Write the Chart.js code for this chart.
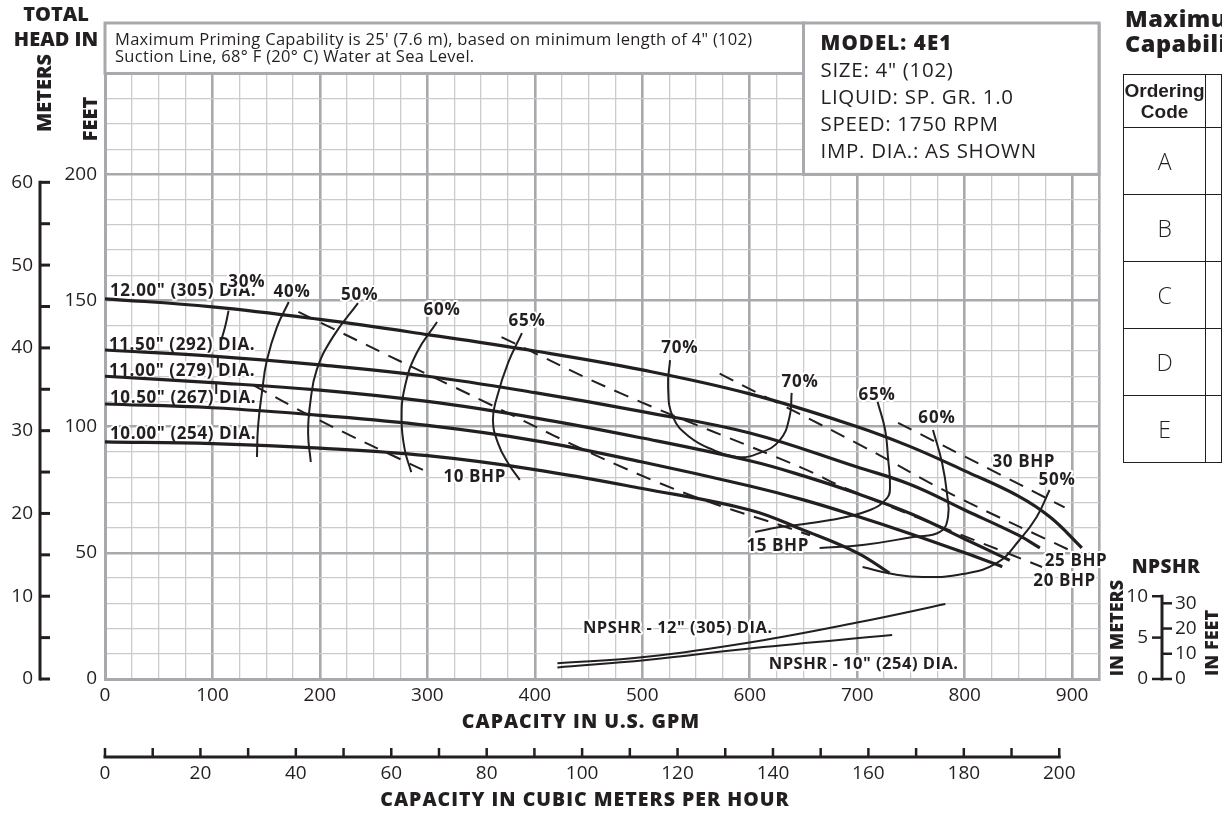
<!DOCTYPE html>
<html>
<head>
  <title>Model 4E1 Performance Curve</title>
  <script src="https://cdn.jsdelivr.net/npm/chart.js"></script>
  <style>
    body { margin: 0; width: 1222px; height: 813px; overflow: hidden; background: #fff; position: relative; color: #231f20; }
    #curve { position: absolute; left: 0; top: 0; }
    #sideTitle { position: absolute; left: 1125px; top: 6px; font: 800 23.5px/25px 'Open Sans', sans-serif; letter-spacing: 0.5px; white-space: nowrap; }
    #codes { position: absolute; left: 1123px; top: 74px; border-collapse: collapse; }
    #codes th, #codes td { border: 1.5px solid #231f20; padding: 0; text-align: center; }
    #codes th { height: 52px; width: 88px; font: bold 19px/21px 'Liberation Sans Narrow', 'Liberation Sans', sans-serif; }
    #codes td { height: 66px; font: 300 23px 'Open Sans', sans-serif; }
    #codes .wide { width: 120px; }
  </style>
</head>
<body>
  <canvas id="curve" width="1222" height="813"></canvas>
  <div id="sideTitle">Maximum Priming<br>Capability</div>
  <table id="codes">
    <tr><th>Ordering<br>Code</th><th class="wide"></th></tr>
    <tr><td>A</td><td></td></tr>
    <tr><td>B</td><td></td></tr>
    <tr><td>C</td><td></td></tr>
    <tr><td>D</td><td></td></tr>
    <tr><td>E</td><td></td></tr>
  </table>

  <script>
    const INK = '#231f20';
    const GRID_MAJOR = '#a7a9ac';
    const GRID_MINOR = '#cacbcd';

    // head (ft) against capacity (US GPM) for each impeller diameter
    const impellerNames = ['12.00" (305) DIA.', '11.50" (292) DIA.', '11.00" (279) DIA.', '10.50" (267) DIA.', '10.00" (254) DIA.'];
    const head1200 = [[0, 150.7], [100, 147.5], [200, 142.5], [300, 136.5], [400, 130], [500, 122.5], [600, 113], [700, 100], [750, 92], [800, 82.5], [850, 72.5], [880, 64], [909, 52]];
    const head1150 = [[0, 130.4], [100, 128], [200, 124.5], [300, 120], [400, 113.5], [500, 106], [600, 97.5], [700, 84], [750, 77], [800, 67], [850, 57], [870, 52]];
    const head1100 = [[0, 120], [100, 117.5], [200, 114.5], [300, 110], [400, 103.5], [500, 95.5], [600, 86.5], [650, 80.5], [700, 73.5], [750, 65.5], [800, 55.5], [842, 47]];
    const head1050 = [[0, 109], [100, 107.5], [200, 104.5], [300, 100.5], [400, 94.5], [500, 86], [600, 76.5], [650, 71], [700, 64.5], [750, 57.5], [800, 50], [835, 44.5]];
    const head1000 = [[0, 94], [100, 93.3], [200, 91.5], [300, 88.5], [400, 83], [500, 75.5], [600, 67], [650, 59], [700, 50], [730, 42]];

    // efficiency contours (null = break in the line)
    const effNames = ['30%', '40%', '50%', '60%', '65%', '70%', '70%', '65%', '60%', '50%'];
    const eff30 = [[115, 146], [112, 140], [108, 134], null, [105, 127.5], [105, 123.5], null, [103.5, 117.5], [103.5, 113]];
    const eff40 = [[171, 149.4], [160, 139.5], [150.7, 126.4], [146, 113.4], [142.4, 99.9], [141.4, 88]];
    const eff50 = [[235.4, 149], [212, 135.5], [197, 122.5], [191, 109.4], [189, 97.5], [191.5, 86]];
    const eff60 = [[309, 141.5], [290, 129.2], [279, 115.7], [276, 102.7], [279, 90.8], [285, 82]];
    const eff65 = [[388, 137.1], [375, 125.2], [364.8, 111.8], [361, 102.7], [365.7, 93.5], [375, 85.6], [386, 78.9]];
    const eff70 = [[525.8, 126.4], [524, 115.7], [528.6, 103.8], [544, 95.9], [566, 90.8], [588, 88], [609.5, 89.6], [628, 94.7], [637, 103.8], [639, 113.4]];
    const eff65b = [[719, 109.8], [726, 98.7], [728.6, 88], [730.5, 76.1], [727.7, 71.7], [712, 67], [675, 63], [628, 60.2], [605, 58.3]];
    const eff60b = [[770.5, 98.7], [779, 85.6], [783.5, 73.7], [784.5, 64.2], [777, 58.3], [752, 56.3], [705, 53.1], [665, 51.9]];
    const eff50b = [[879, 74.9], [867, 64.2], [851, 55.1], [830, 46], [798, 41.6], [761, 40.4], [733, 41.6], [705, 44.4]];

    // brake horsepower lines
    const bhpNames = ['10 BHP', '15 BHP', '20 BHP', '25 BHP', '30 BHP'];
    const bhp10 = [[138, 116.5], [193.5, 103.8], [302, 81.6]];
    const bhp15 = [[180, 145.5], [321, 116.5], [514, 78], [656, 57]];
    const bhp20 = [[369, 135.5], [479, 113.4], [649, 83.6], [693, 74.9], [872, 44.4]];
    const bhp25 = [[572, 121], [703, 92.7], [789, 73], [898, 51]];
    const bhp30 = [[738, 101.5], [824, 83], [893, 68]];

    // NPSH required (ft)
    const npshNames = ['NPSHR - 12" (305) DIA.', 'NPSHR - 10" (254) DIA.'];
    const npsh12 = [[421, 6.2], [504, 8.8], [604, 14.8], [703.5, 22.7], [782, 29.7]];
    const npsh10 = [[421, 4.6], [504, 7.5], [604, 12.3], [732.5, 17.4]];

    // axes
    const gpmMax = 925;
    const feetMax = 260;
    const gpmPerM3h = 4.44;
    const feetLabels = [0, 50, 100, 150, 200];
    const meterTicks = [0, 5, 10, 15, 20, 25, 30, 35, 40, 45, 50, 55, 60];
    const meterLabels = [0, 10, 20, 30, 40, 50, 60];
    const m3hTicks = [0, 10, 20, 30, 40, 50, 60, 70, 80, 90, 100, 110, 120, 130, 140, 150, 160, 170, 180, 190, 200];
    const m3hLabels = [0, 20, 40, 60, 80, 100, 120, 140, 160, 180, 200];
    const npshMeters = [0, 5, 10];
    const npshFeet = [0, 10, 20, 30];

    const noteLines = ['Maximum Priming Capability is 25\' (7.6 m), based on minimum length of 4" (102)', 'Suction Line, 68° F (20° C) Water at Sea Level.'];
    const modelLines = ['MODEL: 4E1', 'SIZE: 4" (102)', 'LIQUID: SP. GR. 1.0', 'SPEED: 1750 RPM', 'IMP. DIA.: AS SHOWN'];

    // where the curve captions sit, in GPM / ft
    const impellerLabelAt = [[4.7, 153.6], [3.7, 132.4], [3.7, 122.1], [4.7, 111.2], [4.7, 97.1]];
    const effLabelAt = [[132, 157.3], [174, 153.4], [237, 152.2], [313.6, 146.3], [392.7, 141.9], [535, 131.2], [646.8, 117.7], [718.4, 112.6], [774.2, 103.4], [886, 78.9]];
    const bhpLabelAt = [[344, 80], [626, 52.7], [893, 38.8], [903.6, 46.8], [855, 86]];
    const npshLabelAt = [[533, 20.2], [706, 5.9]];

    const pts = arr => arr.map((p, i) => p ? { x: p[0], y: p[1] } : { x: arr[i - 1][0], y: null });

    const datasets = [];
    [head1200, head1150, head1100, head1050, head1000].forEach(c =>
      datasets.push({ data: pts(c), borderWidth: 3.2 }));
    [eff30, eff40, eff50, eff60, eff65, eff70, eff65b, eff60b, eff50b].forEach(c =>
      datasets.push({ data: pts(c), borderWidth: 2, tension: 0.45 }));
    [bhp10, bhp15, bhp20, bhp25, bhp30].forEach(c =>
      datasets.push({ data: pts(c), borderWidth: 2, borderDash: [15, 10] }));
    [npsh12, npsh10].forEach(c =>
      datasets.push({ data: pts(c), borderWidth: 2 }));

    function write(ctx, s, x, y, font, align, halo, spacing) {
      ctx.font = font;
      ctx.letterSpacing = (spacing || 0) + 'px';
      ctx.textAlign = align || 'left';
      ctx.textBaseline = 'middle';
      if (halo) {
        ctx.lineWidth = 4;
        ctx.lineJoin = 'round';
        ctx.strokeStyle = '#fff';
        ctx.strokeText(s, x, y);
      }
      ctx.fillStyle = INK;
      ctx.fillText(s, x, y);
      ctx.letterSpacing = '0px';
    }

    function upright(ctx, s, x, y, font) {
      ctx.save();
      ctx.translate(x, y);
      ctx.rotate(-Math.PI / 2);
      write(ctx, s, 0, 0, font, 'center');
      ctx.restore();
    }

    function stroke(ctx, x1, y1, x2, y2, w) {
      ctx.lineWidth = w;
      ctx.strokeStyle = INK;
      ctx.beginPath();
      ctx.moveTo(x1, y1);
      ctx.lineTo(x2, y2);
      ctx.stroke();
    }

    const BOLD = '700 17px "Open Sans"';

    const decor = {
      id: 'decor',
      beforeDatasetsDraw(chart) {
        const { ctx } = chart;
        const { x, y } = chart.scales;
        ctx.save();
        // note box and model box over the top of the grid
        const boxes = [[0, feetMax, 650, 240], [650, feetMax, gpmMax, 200]];
        boxes.forEach(([g1, f1, g2, f2]) => {
          const l = x.getPixelForValue(g1), t = y.getPixelForValue(f1);
          const r = x.getPixelForValue(g2), b = y.getPixelForValue(f2);
          ctx.fillStyle = '#fff';
          ctx.fillRect(l, t, r - l, b - t);
          ctx.strokeStyle = GRID_MAJOR;
          ctx.lineWidth = 3;
          ctx.strokeRect(l, t, r - l, b - t);
        });
        const nl = x.getPixelForValue(0) + 10, nt = y.getPixelForValue(feetMax);
        noteLines.forEach((s, i) => write(ctx, s, nl, nt + 17 + i * 17, '16.5px "Open Sans"', 'left', false, 0.3));
        const ml = x.getPixelForValue(650) + 17;
        modelLines.forEach((s, i) =>
          write(ctx, s, ml, nt + 21 + i * 27, (i === 0 ? '800 ' : '400 ') + '20.5px "Open Sans"', 'left', false, i === 0 ? 1.1 : 0.7));

        impellerNames.forEach((s, i) => {
          const [g, f] = impellerLabelAt[i];
          write(ctx, s, x.getPixelForValue(g), y.getPixelForValue(f), BOLD, 'left', true, 0.6);
        });
        ctx.restore();
      },
      afterDatasetsDraw(chart) {
        const { ctx } = chart;
        const { x, y } = chart.scales;
        ctx.save();
        effNames.forEach((s, i) => {
          const [g, f] = effLabelAt[i];
          write(ctx, s, x.getPixelForValue(g), y.getPixelForValue(f), BOLD, 'center', true, 0.8);
        });
        bhpNames.forEach((s, i) => {
          const [g, f] = bhpLabelAt[i];
          write(ctx, s, x.getPixelForValue(g), y.getPixelForValue(f), BOLD, 'center', true, 0.6);
        });
        npshNames.forEach((s, i) => {
          const [g, f] = npshLabelAt[i];
          write(ctx, s, x.getPixelForValue(g), y.getPixelForValue(f), '700 16.5px "Open Sans"', 'center', true, 0.5);
        });
        ctx.restore();
      },
      afterDraw(chart) {
        const { ctx } = chart;
        const { y, xm, ym } = chart.scales;
        const NUM = '19px "Open Sans"';
        const TITLE = '800 20px "Open Sans"';
        ctx.save();

        // metres scale down the far left
        const mx = 40;
        stroke(ctx, mx, ym.getPixelForValue(0) + 1.5, mx, ym.getPixelForValue(60) - 1.5, 3);
        meterTicks.forEach(v => stroke(ctx, mx, ym.getPixelForValue(v), mx + 10, ym.getPixelForValue(v), 3));
        meterLabels.forEach(v => write(ctx, String(v), 33, ym.getPixelForValue(v), NUM, 'right'));

        write(ctx, 'TOTAL', 56, 15, TITLE, 'center');
        write(ctx, 'HEAD IN', 56, 40, TITLE, 'center');
        upright(ctx, 'METERS', 45, 93, TITLE);
        upright(ctx, 'FEET', 91, 119, TITLE);

        // cubic metres per hour scale under the GPM axis
        const ay = 757;
        stroke(ctx, xm.getPixelForValue(0) - 1.5, ay, xm.getPixelForValue(200) + 1.5, ay, 3);
        m3hTicks.forEach(v => stroke(ctx, xm.getPixelForValue(v), ay, xm.getPixelForValue(v), ay - 9, 2.5));
        m3hLabels.forEach(v => write(ctx, String(v), xm.getPixelForValue(v), ay + 17, NUM, 'center'));
        write(ctx, 'CAPACITY IN U.S. GPM', 581, 722, '800 19.5px "Open Sans"', 'center', false, 1);
        write(ctx, 'CAPACITY IN CUBIC METERS PER HOUR', 585, 800, '800 19.5px "Open Sans"', 'center', false, 1);

        // small NPSHR scale at the right
        const nx = 1162;
        stroke(ctx, nx, ym.getPixelForValue(0) + 1.5, nx, ym.getPixelForValue(10) - 1.5, 3);
        npshMeters.forEach(v => {
          stroke(ctx, nx - 10, ym.getPixelForValue(v), nx, ym.getPixelForValue(v), 2.5);
          write(ctx, String(v), nx - 14, ym.getPixelForValue(v), NUM, 'right');
        });
        npshFeet.forEach(v => {
          stroke(ctx, nx, y.getPixelForValue(v), nx + 10, y.getPixelForValue(v), 2.5);
          write(ctx, String(v), nx + 13, y.getPixelForValue(v), NUM, 'left');
        });
        write(ctx, 'NPSHR', 1166, 568, '800 19px "Open Sans"', 'center', false, 0.5);
        upright(ctx, 'IN METERS', 1118, 628, '800 18px "Open Sans"');
        upright(ctx, 'IN FEET', 1213, 643, '800 18px "Open Sans"');
        ctx.restore();
      }
    };

    const gridColor = (step, max) => c => (c.tick.value % step === 0 || c.tick.value === max ? GRID_MAJOR : GRID_MINOR);
    const gridWidth = (step, max) => c => (c.tick.value % step === 0 || c.tick.value === max ? 2.6 : 1.3);

    new Chart(document.getElementById('curve'), {
      type: 'line',
      data: {
        datasets: datasets.map(d => Object.assign({
          borderColor: INK,
          pointRadius: 0,
          fill: false,
          spanGaps: false,
          tension: 0.4,
          borderJoinStyle: 'round'
        }, d))
      },
      options: {
        responsive: false,
        animation: false,
        devicePixelRatio: 1,
        layout: { padding: { top: 23, right: 123, left: 0, bottom: 0 } },
        plugins: { legend: { display: false }, tooltip: { enabled: false } },
        scales: {
          x: {
            type: 'linear', min: 0, max: gpmMax,
            afterFit: s => { s.height = 134; },
            ticks: {
              stepSize: 25, autoSkip: false, maxRotation: 0, padding: 5, color: INK,
              font: { family: 'Open Sans', size: 19 },
              callback: v => (v % 100 === 0 ? v : '')
            },
            grid: { drawTicks: false, color: gridColor(100, gpmMax), lineWidth: gridWidth(100, gpmMax) },
            border: { display: true, color: GRID_MAJOR, width: 3 }
          },
          y: {
            type: 'linear', min: 0, max: feetMax,
            afterFit: s => { s.width = 105; },
            ticks: {
              stepSize: 10, autoSkip: false, padding: 8, color: INK,
              font: { family: 'Open Sans', size: 19 },
              callback: v => (feetLabels.includes(v) ? v : '')
            },
            grid: { drawTicks: false, color: gridColor(50, feetMax), lineWidth: gridWidth(50, feetMax) },
            border: { display: true, color: GRID_MAJOR, width: 3 }
          },
          xm: { type: 'linear', axis: 'x', position: 'bottom', display: false, min: 0, max: gpmMax / gpmPerM3h },
          ym: { type: 'linear', axis: 'y', position: 'left', display: false, min: 0, max: feetMax * 0.3048 }
        }
      },
      plugins: [decor]
    });
  </script>
</body>
</html>
